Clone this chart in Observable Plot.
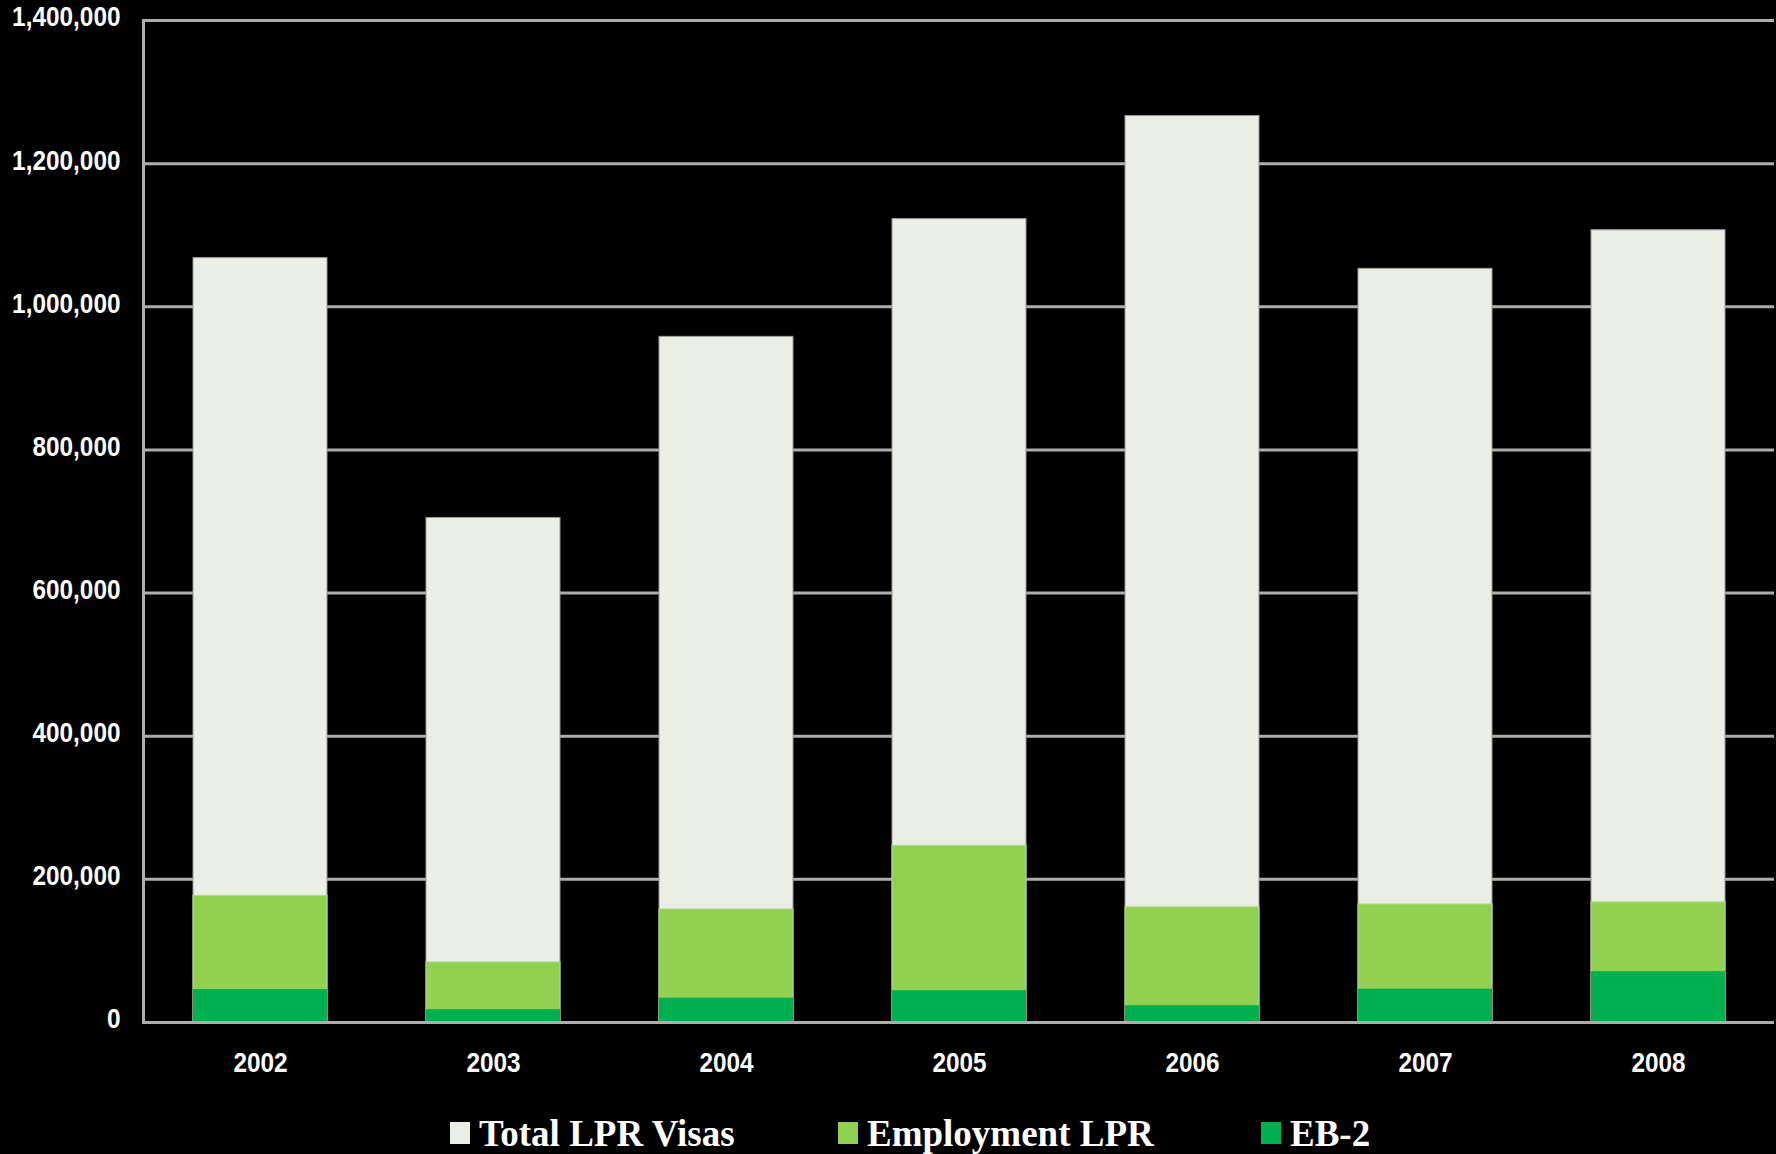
<!DOCTYPE html>
<html>
<head>
<meta charset="utf-8">
<script src="https://cdn.jsdelivr.net/npm/d3@7"></script>
<script src="https://cdn.jsdelivr.net/npm/@observablehq/plot@0.6"></script>
<style>
  html, body { margin: 0; padding: 0; background: #000; }
  #wrap { position: relative; width: 1776px; height: 1154px; background: #000; overflow: hidden; }
  #legend { position: absolute; left: 0; top: 1112px; width: 1776px; height: 42px; }
  .item { position: absolute; top: 0; display: flex; align-items: center; height: 42px; }
  .sw { width: 20px; height: 22px; margin-right: 9px; }
  .lab { font-family: "Liberation Serif", "DejaVu Serif", serif; font-weight: bold; font-size: 37px; color: #fff; white-space: nowrap; }
  svg text { fill: #fff; }
</style>
</head>
<body>
<div id="wrap">
  <div id="chart"></div>
  <div id="legend"></div>
</div>
<script>
const years = ["2002", "2003", "2004", "2005", "2006", "2007", "2008"];
const totalLPR = [1068000, 705000, 958000, 1122500, 1266500, 1053000, 1107000];
const employmentLPR = [177000, 84000, 158000, 247000, 161000, 165000, 168000];
const eb2 = [46000, 18000, 34000, 44500, 23500, 46500, 71000];
const yTicks = [0, 200000, 400000, 600000, 800000, 1000000, 1200000, 1400000];
const seriesNames = ["Total LPR Visas", "Employment LPR", "EB-2"];
const seriesColors = ["#EBEEE5", "#92D050", "#00B050"];

const toRows = (vals) => years.map((y, i) => ({year: y, value: vals[i]}));
const rowsTotal = toRows(totalLPR);
const rowsEmp = toRows(employmentLPR);
const rowsEb2 = toRows(eb2);

const fmt = d3.format(",");

const chart = Plot.plot({
  width: 1776,
  height: 1095,
  marginLeft: 143,
  marginRight: 2,
  marginTop: 20,
  marginBottom: 73,
  style: {background: "#000", color: "#fff", fontFamily: "'Liberation Sans', Arial, sans-serif"},
  x: {domain: years, paddingInner: 0.427, paddingOuter: 0.2135, label: null},
  y: {domain: [0, 1400000], label: null},
  marks: [
    Plot.ruleY(yTicks, {stroke: "#ADADAD", strokeWidth: 3, strokeOpacity: 1}),
    Plot.frame({anchor: "left", stroke: "#ADADAD", strokeWidth: 3, strokeOpacity: 1}),
    Plot.barY(rowsTotal, {x: "year", y1: 0, y2: "value", fill: seriesColors[0], stroke: "#9A9A9A", strokeWidth: 1}),
    Plot.barY(rowsEmp, {x: "year", y1: 0, y2: "value", fill: seriesColors[1], stroke: "#B8DC95", strokeWidth: 1}),
    Plot.barY(rowsEb2, {x: "year", y1: 0, y2: "value", fill: seriesColors[2]}),
    Plot.ruleY([0], {stroke: "#ADADAD", strokeWidth: 3}),
    Plot.axisY({ticks: yTicks, tickFormat: fmt, tickSize: 0, tickPadding: 23, fontSize: 28, fontWeight: "bold", fill: "#fff", dy: -3}),
    Plot.axisX({tickSize: 0, tickPadding: 30, fontSize: 28, fontWeight: "bold", fill: "#fff"})
  ]
});
chart.querySelectorAll("text").forEach(t => { t.style.fontWeight = "bold"; });
document.getElementById("chart").appendChild(chart);
// condense the tick labels horizontally (the reference uses a narrow face)
chart.querySelectorAll("text").forEach(t => {
  const w = t.getComputedTextLength();
  if (w > 0) {
    t.setAttribute("textLength", (w * 0.87).toFixed(1));
    t.setAttribute("lengthAdjust", "spacingAndGlyphs");
  }
});

const legendLefts = [450, 838, 1261];
const legend = document.getElementById("legend");
seriesNames.forEach((name, i) => {
  const item = document.createElement("div");
  item.className = "item";
  item.style.left = legendLefts[i] + "px";
  const sw = document.createElement("div");
  sw.className = "sw";
  sw.style.background = seriesColors[i];
  const lab = document.createElement("span");
  lab.className = "lab";
  lab.textContent = name;
  item.appendChild(sw);
  item.appendChild(lab);
  legend.appendChild(item);
});
</script>
</body>
</html>
